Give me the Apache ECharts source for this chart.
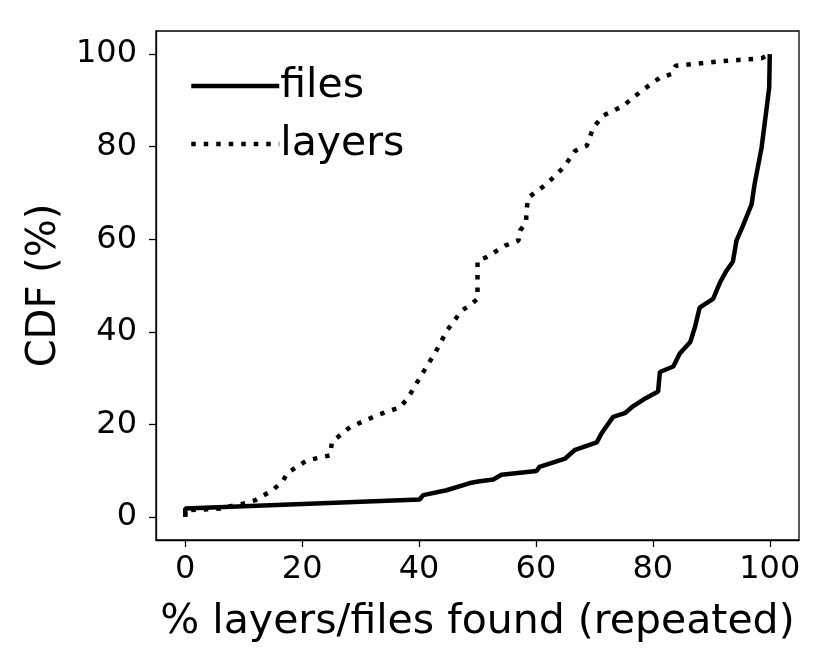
<!DOCTYPE html>
<html>
<head>
<meta charset="utf-8">
<script src="https://cdn.jsdelivr.net/npm/echarts@6/dist/echarts.min.js"></script>
<style>html,body{margin:0;padding:0;background:#fff}#c{width:830px;height:664px}</style>
</head>
<body>
<div id="c"></div>
<script>
const xTicks = [0, 20, 40, 60, 80, 100];
const yTicks = [0, 20, 40, 60, 80, 100];
const filesX = [0, 0, 40.1, 40.7, 44.7, 48.7, 50.4, 52.7, 54.1, 60.1, 60.6, 65, 66.7, 70.4, 71.2, 73.2, 75.2, 76.4, 78.3, 80.9, 81.2, 83.5, 84.6, 86.4, 87.2, 88, 90.3, 91.5, 92.6, 93.7, 94.3, 95.4, 96.9, 97.4, 98.6, 99.4, 99.9, 100];
const filesY = [0, 1.8, 3.75, 4.7, 5.75, 7.3, 7.7, 8.07, 9.1, 9.9, 10.8, 12.6, 14.5, 16.1, 18, 21.6, 22.4, 23.7, 25.3, 27.1, 31.3, 32.5, 35.3, 37.8, 41, 45.2, 47.1, 50.7, 53.2, 55.2, 59.7, 62.9, 67.6, 71.9, 79.8, 87.7, 92.8, 100];
const layersX = [0, 0, 6, 10, 12, 15.1, 16.8, 17.4, 20.8, 24.8, 25.1, 28.2, 33.3, 36.8, 38.2, 40.2, 43, 44.8, 47.3, 48.7, 50, 50, 51.5, 54.7, 57, 57.3, 58.3, 58.4, 58.7, 61.8, 64.7, 66.7, 68.7, 69.8, 71.5, 74.9, 78.1, 81.2, 83.2, 83.9, 92, 98.6, 100];
const layersY = [0, 1.4, 1.8, 2.9, 3.6, 5.9, 7.9, 9.4, 12.2, 13.3, 16.2, 19.4, 22.2, 23.7, 25.9, 30.2, 36, 40.3, 44.6, 45.7, 47.1, 55.4, 56.1, 58.6, 59.7, 61.9, 63.6, 66.5, 69, 71.9, 75.5, 79.1, 80.2, 84.1, 86.7, 88.8, 92.1, 94.9, 95.7, 97.5, 98.5, 99.1, 100];

const font = 'DejaVu Sans';
const pair = (xs, ys) => xs.map((x, i) => [x, ys[i]]);
const chart = echarts.init(document.getElementById('c'), null, {renderer: 'canvas'});
chart.setOption({
  animation: false,
  backgroundColor: '#fff',
  grid: {left: 156, right: 31, top: 31, bottom: 124, show: true, borderColor: '#000', borderWidth: 1.3, backgroundColor: 'transparent'},
  legend: {
    orient: 'vertical', left: 184, top: 60,
    itemWidth: 88, itemHeight: 14, itemGap: 16,
    itemStyle: {opacity: 0},
    lineStyle: {width: 4.5},
    textStyle: {fontFamily: font, fontSize: 41, color: '#000', lineHeight: 42, padding: [0, 0, 0, -4]},
    data: ['files', 'layers']
  },
  xAxis: {
    type: 'value', min: -5, max: 105,
    name: '% layers/files found (repeated)', nameLocation: 'middle', nameGap: 62,
    nameTextStyle: {fontFamily: font, fontSize: 41, color: '#000'},
    axisLine: {show: true, onZero: false, lineStyle: {color: '#000', width: 1.3}},
    axisTick: {show: true, inside: false, length: 7, lineStyle: {color: '#000', width: 1.3}, customValues: xTicks},
    axisLabel: {fontFamily: font, fontSize: 32, color: '#000', margin: 14, customValues: xTicks},
    splitLine: {show: false}
  },
  yAxis: {
    type: 'value', min: -5, max: 105,
    name: 'CDF (%)', nameLocation: 'middle', nameGap: 90,
    nameTextStyle: {fontFamily: font, fontSize: 40, color: '#000'},
    axisLine: {show: true, onZero: false, lineStyle: {color: '#000', width: 1.3}},
    axisTick: {show: true, inside: false, length: 7, lineStyle: {color: '#000', width: 1.3}, customValues: yTicks},
    axisLabel: {fontFamily: font, fontSize: 32, color: '#000', margin: 19, customValues: yTicks},
    splitLine: {show: false}
  },
  series: [
    {name: 'files', type: 'line', data: pair(filesX, filesY), showSymbol: false, symbol: 'none',
     lineStyle: {color: '#000', width: 4.5, type: 'solid'}, itemStyle: {color: '#000'}},
    {name: 'layers', type: 'line', data: pair(layersX, layersY), showSymbol: false, symbol: 'none',
     lineStyle: {color: '#000', width: 4.5, type: [4.5, 8], cap: 'butt'}, itemStyle: {color: '#000'}}
  ]
});
</script>
</body>
</html>
